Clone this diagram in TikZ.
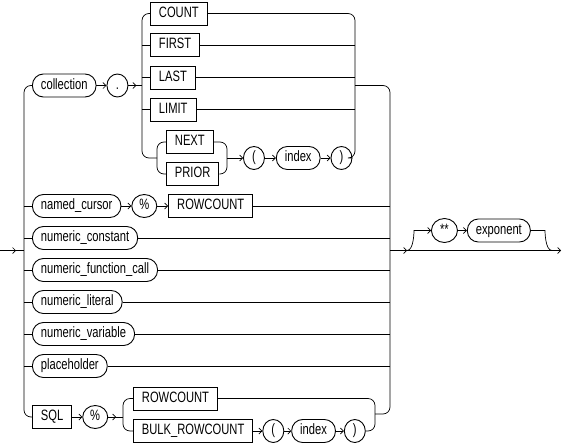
\documentclass[tikz,border=0pt]{standalone}
\usepackage{fontspec}
\setmainfont[FakeStretch=0.745]{Liberation Sans}
\usetikzlibrary{arrows.meta}
\usetikzlibrary{positioning}
\usetikzlibrary{shapes.geometric}

\tikzset{
  kw/.style={draw, line width=0.9pt, minimum height=23pt, inner xsep=8.5pt,
    text height=10.7pt, text depth=3pt, font=\fontsize{15}{16}\selectfont},
  nt/.style={kw, rounded corners=11pt},
  pc/.style={kw, ellipse, inner sep=1pt, minimum width=21pt},
  rail/.style={line width=0.7pt, rounded corners=7pt},
  arr/.style={rail, -{Straight Barb[length=3pt,width=6pt]}}
}

\begin{document}
\begin{tikzpicture}[x=1pt, y=-1pt]
  \useasboundingbox (0,0) rectangle (564,444);

  % collection . attribute
  \node[nt, anchor=west] (collection) at (32,85.5) {collection};
  \node[pc, right=10pt of collection] (dot) {.};
  \node[kw, anchor=west] (count) at (150,13.5) {COUNT};
  \node[kw, anchor=west] (first) at (150,45) {FIRST};
  \node[kw, anchor=west] (last) at (150,77.5) {LAST};
  \node[kw, anchor=west] (limit) at (150,109.5) {LIMIT};
  \node[kw, anchor=west] (next) at (166,142) {NEXT};
  \node[kw, anchor=west] (prior) at (166,174) {PRIOR};
  \node[pc, anchor=west] (lpa) at (243,158) {(};
  \node[nt, right=11pt of lpa] (idxa) {index};
  \node[pc, right=10pt of idxa] (rpa) {)};

  % single rows
  \node[nt, anchor=west] (cursor) at (32,206) {named\_cursor};
  \node[pc, minimum width=25pt, right=10pt of cursor] (pcta) {\%};
  \node[kw, right=11pt of pcta] (rowcnta) {ROWCOUNT};
  \node[nt, anchor=west] (const) at (32,238) {numeric\_constant};
  \node[nt, anchor=west] (func) at (32,270) {numeric\_function\_call};
  \node[nt, anchor=west] (lit) at (32,302) {numeric\_literal};
  \node[nt, anchor=west] (var) at (32,334) {numeric\_variable};
  \node[nt, anchor=west] (place) at (32,366) {placeholder};

  % SQL % attribute
  \node[kw, anchor=west] (sql) at (32,417) {SQL};
  \node[pc, minimum width=25pt, right=10pt of sql] (pctb) {\%};
  \node[kw, anchor=west] (rowcntb) at (133,398.5) {ROWCOUNT};
  \node[kw, anchor=west] (bulk) at (133,431) {BULK\_ROWCOUNT};
  \node[pc, right=9pt of bulk] (lpb) {(};
  \node[nt, right=7pt of lpb] (idxb) {index};
  \node[pc, right=8pt of idxb] (rpb) {)};

  % ** exponent
  \node[pc, minimum width=26pt, minimum height=24pt, anchor=west] (pow) at (431,230.5) {**};
  \node[nt, right=9pt of pow] (expo) {exponent};

  \coordinate (start) at (0,250.5);
  \coordinate (mainL) at (24,250.5);
  \coordinate (colL) at (142,85.5);
  \coordinate (colR) at (355,85.5);
  \coordinate (npL) at (157,158);
  \coordinate (npR) at (227,158);
  \coordinate (mainR) at (390,250.5);
  \coordinate (sqlL) at (123,417);
  \coordinate (sqlR) at (375,414);
  \coordinate (optL) at (407,250.5);
  \coordinate (optLt) at (421,230.5);
  \coordinate (optRt) at (538,230.5);
  \coordinate (optR) at (552,250.5);
  \coordinate (end) at (561,250.5);

  % main rails
  \draw[rail] (start) -- (mainL);
  \draw[arr] (start) -- ++(16,0);
  \draw[rail] (collection.west) -| (mainL) |- (sql.west);
  \foreach \n in {cursor,const,func,lit,var,place}
    \draw[rail] (mainL |- \n.west) -- (\n.west);
  \foreach \n in {rowcnta,const,func,lit,var,place}
    \draw[rail] (\n.east) -- (mainR |- \n.east);
  \draw[rail] (colR) -| (mainR) |- (sqlR);

  % collection group
  \draw[arr] (collection) -- (dot);
  \draw[rail] (dot) -- (colL);
  \draw[arr] (dot.east) -- ++(8,0);
  \draw[rail] (count.west) -| (colL) |- (npL);
  \foreach \n in {first,last,limit} {
    \draw[rail] (colL |- \n.west) -- (\n.west);
    \draw[rail] (\n.east) -- (colR |- \n.east);
  }
  \draw[rail] (count.east) -| (colR) |- (rpa.east);
  \draw[rail] (next.west) -| (npL) |- (prior.west);
  \draw[rail] (next.east) -| (npR) |- (prior.east);
  \draw[arr] (npR) -- (lpa);
  \draw[arr] (lpa) -- (idxa);
  \draw[arr] (idxa) -- (rpa);

  % named_cursor row
  \draw[arr] (cursor) -- (pcta);
  \draw[arr] (pcta) -- (rowcnta);

  % SQL group
  \draw[arr] (sql) -- (pctb);
  \draw[rail] (pctb) -- (sqlL);
  \draw[arr] (pctb.east) -- ++(8,0);
  \draw[rail] (rowcntb.west) -| (sqlL) |- (bulk.west);
  \draw[rail] (rowcntb.east) -| (sqlR) |- (rpb.east);
  \draw[arr] (bulk) -- (lpb);
  \draw[arr] (lpb) -- (idxb);
  \draw[arr] (idxb) -- (rpb);

  % exit with optional exponent
  \draw[arr] (mainR) -- (optL);
  \draw[arr] (optL) -- (end);
  \draw[arr] (optL) .. controls +(7,0) and +(-7,0) .. (optLt) -- (pow);
  \draw[arr] (pow) -- (expo);
  \draw[rail] (expo.east) -- (optRt) .. controls +(7,0) and +(-7,0) .. (optR);
\end{tikzpicture}
\end{document}
